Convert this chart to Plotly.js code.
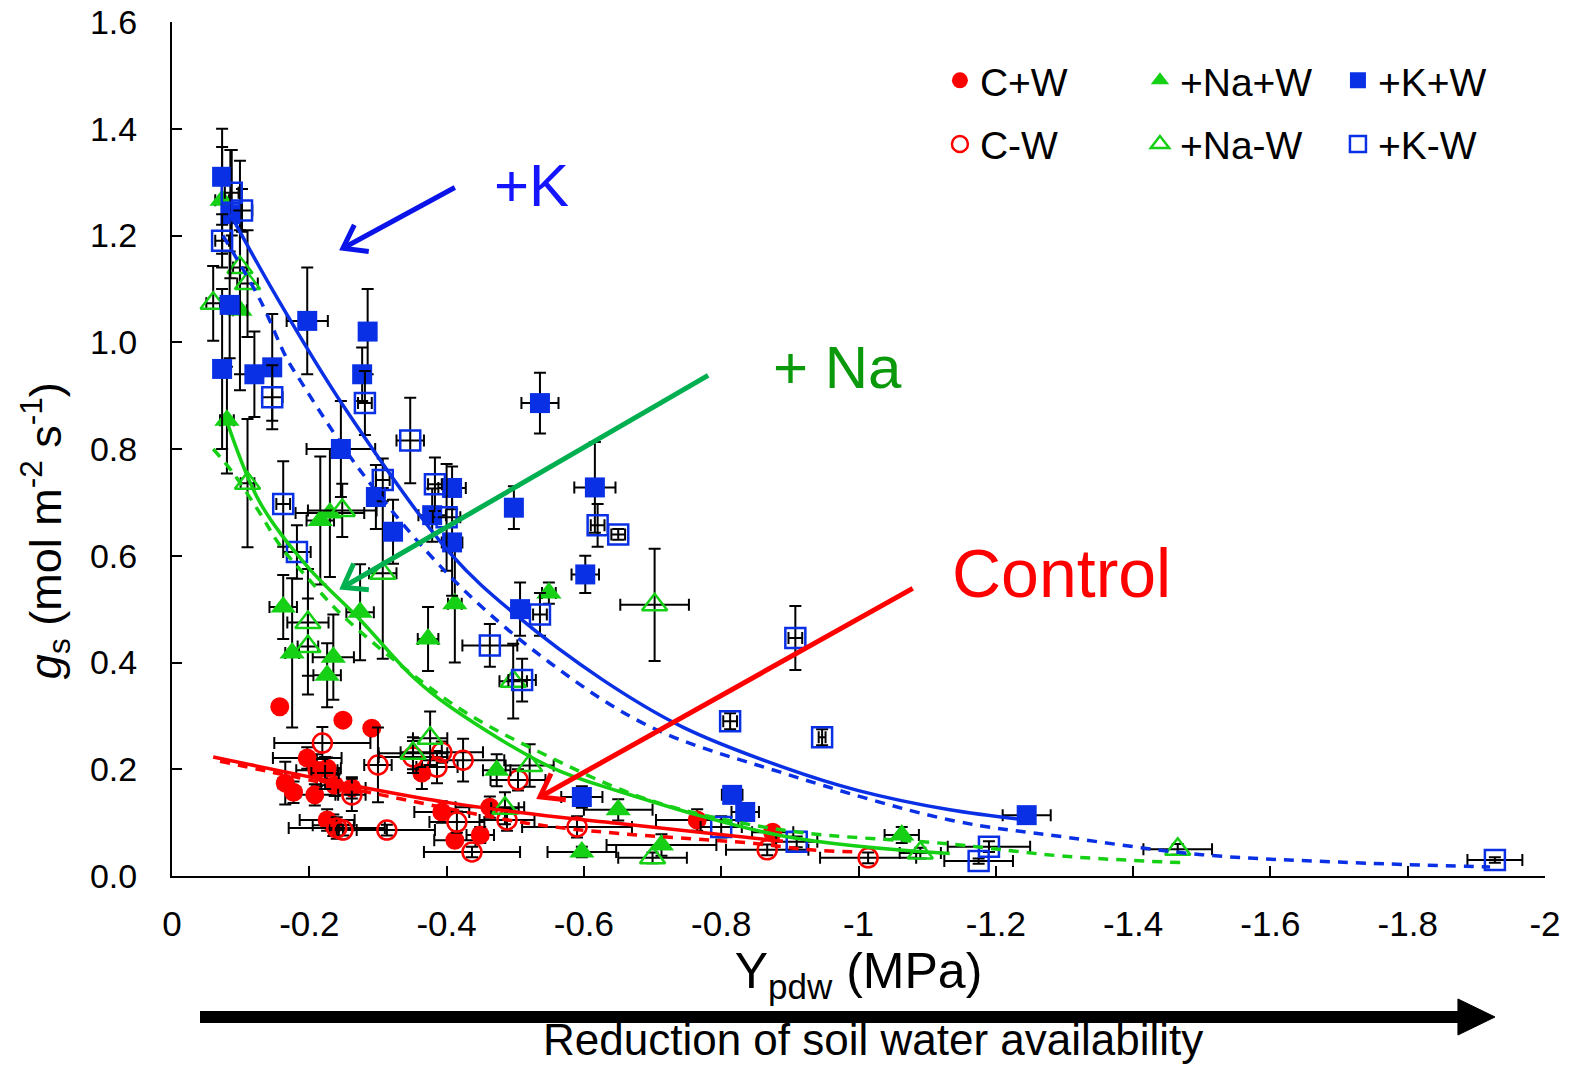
<!DOCTYPE html>
<html>
<head>
<meta charset="utf-8">
<script src="https://cdn.plot.ly/plotly-3.0.1.min.js"></script>
<style>html,body{margin:0;padding:0;background:#fff;}#chart{width:1573px;height:1068px;}</style>
</head>
<body>
<div id="chart"></div>
<script>
// ---------- Data ----------
// C+W (control, well watered) – filled red circles
const cwX  = [-0.157,-0.249,-0.291,-0.197,-0.211,-0.226,-0.165,-0.177,-0.208,-0.237,-0.262,-0.364,-0.226,-0.235,-0.393,-0.463,-0.412,-0.449,-0.765,-0.875];
const cwY  = [0.317,0.292,0.277,0.221,0.198,0.202,0.174,0.157,0.152,0.170,0.165,0.193,0.105,0.095,0.120,0.129,0.067,0.077,0.105,0.082];
const cwEx = [0,0,0,0.05,0.03,0.02,0.01,0.01,0.03,0.02,0.02,0.01,0.04,0.03,0.04,0.05,0.03,0.02,0.06,0.03];
const cwEy = [0,0,0,0.02,0.03,0.02,0.04,0.02,0.02,0.02,0.02,0.03,0.02,0.02,0.02,0.02,0.01,0.015,0.02,0.01];
// C-W (control, water stressed) – open red circles
const cdX  = [-0.219,-0.300,-0.223,-0.262,-0.240,-0.249,-0.313,-0.351,-0.386,-0.393,-0.424,-0.415,-0.488,-0.437,-0.504,-0.590,-0.867,-1.014];
const cdY  = [0.249,0.208,0.193,0.152,0.090,0.086,0.086,0.223,0.204,0.232,0.217,0.101,0.105,0.045,0.180,0.092,0.049,0.034];
const cdEx = [0.07,0.02,0.02,0.02,0.07,0.02,0.07,0.05,0.03,0.06,0.06,0.04,0.04,0.07,0.04,0.08,0.06,0.07];
const cdEy = [0.03,0.07,0.03,0.03,0.02,0.01,0.01,0.03,0.03,0.02,0.04,0.02,0.02,0.01,0.02,0.02,0.01,0.01];
// +Na+W – filled green triangles
const nwX  = [-0.073,-0.099,-0.080,-0.162,-0.175,-0.216,-0.230,-0.235,-0.226,-0.274,-0.373,-0.412,-0.549,-0.473,-0.650,-0.597,-0.713,-1.063];
const nwY  = [1.266,1.060,0.854,0.504,0.418,0.666,0.680,0.410,0.376,0.494,0.444,0.510,0.530,0.198,0.124,0.045,0.058,0.077];
const nwEx = [0.01,0.01,0.01,0.02,0.01,0.02,0.05,0.03,0.02,0.02,0.015,0.01,0.01,0.02,0.05,0.05,0.08,0.025];
const nwEy = [0.10,0.15,0.10,0.06,0.14,0.12,0.12,0.08,0.06,0.09,0.06,0.11,0.02,0.03,0.02,0.01,0.02,0.015];
// +Na-W – open green triangles
const ndX  = [-0.099,-0.110,-0.060,-0.110,-0.248,-0.307,-0.198,-0.198,-0.703,-0.497,-0.376,-0.351,-0.521,-0.485,-0.700,-1.090,-1.465];
const ndY  = [1.140,1.110,1.073,0.736,0.685,0.567,0.475,0.430,0.508,0.365,0.258,0.230,0.207,0.127,0.034,0.043,0.050];
const ndEx = [0.01,0.015,0.01,0.01,0.05,0.02,0.03,0.015,0.05,0.02,0.025,0.05,0.035,0.02,0.05,0.03,0.05];
const ndEy = [0.20,0.10,0.07,0.12,0.05,0.16,0.10,0.09,0.105,0.07,0.05,0.03,0.04,0.03,0.01,0.01,0.01];
// +K+W – filled blue squares
const kwX  = [-0.073,-0.085,-0.084,-0.073,-0.120,-0.146,-0.197,-0.285,-0.277,-0.246,-0.297,-0.322,-0.379,-0.408,-0.408,-0.536,-0.498,-0.507,-0.616,-0.602,-0.597,-0.816,-0.835,-1.245];
const kwY  = [1.310,1.240,1.070,0.950,0.940,0.953,1.040,1.020,0.940,0.800,0.710,0.645,0.676,0.727,0.625,0.886,0.690,0.500,0.728,0.565,0.148,0.152,0.120,0.114];
const kwEx = [0.01,0.01,0.01,0.01,0.01,0.01,0.03,0.01,0.01,0.05,0.01,0.01,0.02,0.02,0.015,0.027,0.01,0.01,0.03,0.02,0.03,0.015,0.02,0.035];
const kwEy = [0.09,0.12,0.10,0.15,0.08,0.10,0.10,0.08,0.05,0.09,0.06,0.06,0.05,0.04,0.10,0.057,0.04,0.05,0.085,0.035,0.02,0.015,0.015,0.01];
// +K-W – open blue squares
const kdX  = [-0.087,-0.102,-0.073,-0.146,-0.281,-0.347,-0.162,-0.182,-0.307,-0.383,-0.400,-0.620,-0.650,-0.536,-0.463,-0.510,-0.908,-0.813,-0.947,-0.800,-0.910,-1.190,-1.175,-1.927];
const kdY  = [1.280,1.247,1.190,0.897,0.886,0.816,0.697,0.607,0.742,0.734,0.672,0.657,0.640,0.490,0.432,0.367,0.446,0.290,0.260,0.092,0.064,0.055,0.028,0.030];
const kdEx = [0.01,0.015,0.01,0.015,0.01,0.02,0.01,0.02,0.01,0.01,0.02,0.01,0.01,0.01,0.04,0.02,0.01,0.01,0.005,0.03,0.03,0.06,0.05,0.04];
const kdEy = [0.08,0.04,0.05,0.06,0.06,0.08,0.08,0.05,0.04,0.05,0.10,0.04,0.01,0.04,0.04,0.04,0.06,0.015,0.015,0.02,0.01,0.01,0.005,0.005];

// Fitted curves
const cwFitX = [-0.06,-0.274,-0.405,-0.565,-0.648,-0.89];
const cwFitY = [0.223,0.167,0.137,0.110,0.099,0.065];
const cdFitX = [-0.07,-0.32,-0.517,-0.648,-0.84,-0.93,-1.0];
const cdFitY = [0.215,0.148,0.099,0.080,0.062,0.049,0.045];
const nwFitX = [-0.077,-0.128,-0.197,-0.274,-0.351,-0.405,-0.55,-0.648,-0.89,-1.133];
const nwFitY = [0.863,0.700,0.580,0.480,0.373,0.317,0.205,0.160,0.075,0.042];
const ndFitX = [-0.06,-0.089,-0.128,-0.157,-0.20,-0.255,-0.415,-0.55,-0.696,-0.89,-1.133,-1.30,-1.47];
const ndFitY = [0.800,0.755,0.680,0.620,0.555,0.480,0.317,0.223,0.142,0.086,0.060,0.037,0.025];
const kwFitX = [-0.085,-0.15,-0.25,-0.405,-0.50,-0.628,-0.744,-0.89,-1.0,-1.133,-1.245];
const kwFitY = [1.240,1.090,0.880,0.605,0.490,0.367,0.279,0.204,0.160,0.124,0.105];
const kdFitX = [-0.074,-0.128,-0.167,-0.186,-0.274,-0.41,-0.55,-0.696,-0.89,-1.133,-1.30,-1.50,-1.70,-1.92];
const kdFitY = [1.200,1.080,0.970,0.930,0.760,0.555,0.400,0.280,0.193,0.105,0.073,0.040,0.026,0.017];

const xTickVals = [0,-0.2,-0.4,-0.6,-0.8,-1,-1.2,-1.4,-1.6,-1.8,-2];
const xTickText = ['0','-0.2','-0.4','-0.6','-0.8','-1','-1.2','-1.4','-1.6','-1.8','-2'];
const yTickVals = [0,0.2,0.4,0.6,0.8,1.0,1.2,1.4,1.6];
const yTickText = ['0.0','0.2','0.4','0.6','0.8','1.0','1.2','1.4','1.6'];

// ---------- Styling ----------
const RED = '#ff0000', GREEN = '#16d016', BLUE = '#0a30e6';
const FONT = 'Liberation Sans, Arial, Helvetica, sans-serif';
const W = 1573, H = 1068, M = {l: 172, r: 28, t: 22, b: 192};
const X_RANGE = [0, -2], Y_RANGE = [0, 1.6];

function pts(name, x, y, ex, ey, symbol, color, size, legendId) {
  const open = symbol.indexOf('open') >= 0;
  return {
    type: 'scatter', mode: 'markers', name: name, x: x, y: y,
    legend: legendId, legendgroup: name,
    marker: {symbol: symbol, color: color, size: size, line: {color: color, width: open ? 2.5 : 0}},
    error_x: {type: 'data', array: ex, visible: true, color: '#000', thickness: 2, width: 6},
    error_y: {type: 'data', array: ey, visible: true, color: '#000', thickness: 2, width: 6},
    hoverinfo: 'x+y'
  };
}
function fit(x, y, color, dash) {
  return {type: 'scatter', mode: 'lines', x: x, y: y, showlegend: false, hoverinfo: 'skip',
          line: {color: color, width: 3.5, dash: dash, shape: 'spline', smoothing: 1}};
}

const data = [
  pts('C+W', cwX, cwY, cwEx, cwEy, 'circle', RED, 19, 'legend'),
  pts('C-W', cdX, cdY, cdEx, cdEy, 'circle-open', RED, 19, 'legend'),
  pts('+Na+W', nwX, nwY, nwEx, nwEy, 'triangle-up', GREEN, 22, 'legend2'),
  pts('+Na-W', ndX, ndY, ndEx, ndEy, 'triangle-up-open', GREEN, 22, 'legend2'),
  pts('+K+W', kwX, kwY, kwEx, kwEy, 'square', BLUE, 20, 'legend3'),
  pts('+K-W', kdX, kdY, kdEx, kdEy, 'square-open', BLUE, 20, 'legend3'),
  fit(cwFitX, cwFitY, RED, 'solid'),
  fit(cdFitX, cdFitY, RED, '10px,8px'),
  fit(nwFitX, nwFitY, GREEN, 'solid'),
  fit(ndFitX, ndFitY, GREEN, '10px,8px'),
  fit(kwFitX, kwFitY, BLUE, 'solid'),
  fit(kdFitX, kdFitY, BLUE, '10px,8px')
];

function legendAt(x) {
  return {x: x, y: 0.969, xanchor: 'left', yanchor: 'top', orientation: 'v',
          bgcolor: 'rgba(0,0,0,0)', borderwidth: 0, tracegroupgap: 10,
          font: {family: FONT, size: 39, color: '#000'}};
}

// Annotation arrows (tail -> head, data coordinates) drawn as shapes with an open "V" head
const pxPerX = (W - M.l - M.r) / (X_RANGE[1] - X_RANGE[0]);   // negative: x decreases to the right
const pxPerY = (H - M.t - M.b) / (Y_RANGE[1] - Y_RANGE[0]);
function arrowShapes(x0, y0, x1, y1, color) {
  const sdx = (x1 - x0) * pxPerX, sdy = -(y1 - y0) * pxPerY;  // screen vector
  const ang = Math.atan2(sdy, sdx), L = 26, spread = 0.62;
  const arm = s => {
    const a = ang + Math.PI + s;
    return [x1 + (L * Math.cos(a)) / pxPerX, y1 - (L * Math.sin(a)) / pxPerY];
  };
  const a1 = arm(spread), a2 = arm(-spread);
  return [
    {type: 'line', xref: 'x', yref: 'y', x0: x0, y0: y0, x1: x1, y1: y1, line: {color: color, width: 5}},
    {type: 'path', xref: 'x', yref: 'y', path: `M ${a1[0]} ${a1[1]} L ${x1} ${y1} L ${a2[0]} ${a2[1]}`,
     line: {color: color, width: 5}}
  ];
}
const shapes = [].concat(
  arrowShapes(-0.412, 1.290, -0.249, 1.176, '#0a14e8'),
  arrowShapes(-0.781, 0.938, -0.249, 0.541, '#00b050'),
  arrowShapes(-1.079, 0.539, -0.536, 0.148, '#ff0000'),
  [
    {type: 'line', xref: 'paper', yref: 'paper', x0: 0.0204, y0: -0.1651, x1: 0.9380, y1: -0.1651,
     line: {color: '#000', width: 12}},
    {type: 'path', xref: 'paper', yref: 'paper', path: 'M 0.9366 -0.1440 L 0.9636 -0.1651 L 0.9366 -0.1862 Z',
     fillcolor: '#000', line: {color: '#000', width: 1}}
  ]
);

const layout = {
  width: W, height: H,
  margin: M,
  paper_bgcolor: '#fff', plot_bgcolor: '#fff',
  font: {family: FONT, color: '#000'},
  showlegend: true,
  legend: legendAt(0.5593),
  legend2: legendAt(0.7050),
  legend3: legendAt(0.8492),
  xaxis: {
    range: X_RANGE, tickvals: xTickVals, ticktext: xTickText,
    ticks: 'inside', ticklen: 10, tickwidth: 2, tickcolor: '#000',
    showline: true, linewidth: 2, linecolor: '#000', showgrid: false, zeroline: false,
    tickfont: {family: FONT, size: 35, color: '#000'}, ticklabelstandoff: 16,
    title: {text: 'Y<sub>pdw</sub> (MPa)', font: {family: FONT, size: 50, color: '#000'}, standoff: 9}
  },
  yaxis: {
    range: Y_RANGE, tickvals: yTickVals, ticktext: yTickText,
    ticks: 'inside', ticklen: 10, tickwidth: 2, tickcolor: '#000',
    showline: true, linewidth: 2, linecolor: '#000', showgrid: false, zeroline: false,
    tickfont: {family: FONT, size: 34, color: '#000'}, ticklabelstandoff: 26
  },
  shapes: shapes,
  annotations: [
    // y-axis title (placed as in the reference, below the axis centre)
    {text: '<i>g</i><sub>s</sub> (mol m<sup>-2</sup> s<sup>-1</sup>)', textangle: -90,
     xref: 'paper', yref: 'paper', x: -0.0925, y: 0.405, xanchor: 'center', yanchor: 'middle',
     showarrow: false, font: {family: FONT, size: 45, color: '#000'}},
    // group labels
    {text: '+K', xref: 'paper', yref: 'paper', x: 0.2615, y: 0.809, xanchor: 'center', yanchor: 'middle',
     showarrow: false, font: {family: FONT, size: 60, color: '#1414ff'}},
    {text: '+ Na', xref: 'paper', yref: 'paper', x: 0.485, y: 0.596, xanchor: 'center', yanchor: 'middle',
     showarrow: false, font: {family: FONT, size: 60, color: '#0a990a'}},
    {text: 'Control', xref: 'paper', yref: 'paper', x: 0.6475, y: 0.355, xanchor: 'center', yanchor: 'middle',
     showarrow: false, font: {family: FONT, size: 68, color: '#ff0000'}},
    // caption under the black arrow
    {text: 'Reduction of soil water availability', xref: 'paper', yref: 'paper', x: 0.5106, y: -0.1915,
     xanchor: 'center', yanchor: 'middle', showarrow: false, font: {family: FONT, size: 44, color: '#000'}}
  ]
};

Plotly.newPlot('chart', data, layout, {displayModeBar: false, staticPlot: true});
</script>
</body>
</html>
